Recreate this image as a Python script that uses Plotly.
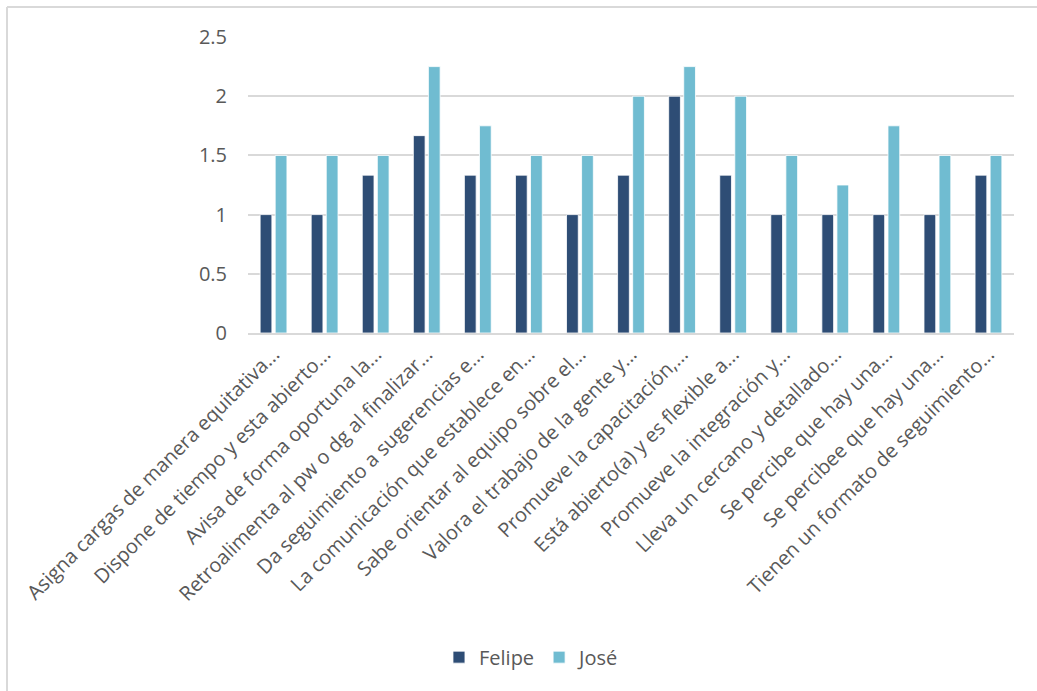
import plotly.graph_objects as go

categories = [
    "Asigna cargas de manera equitativa...",
    "Dispone de tiempo y esta abierto...",
    "Avisa de forma oportuna la...",
    "Retroalimenta al pw o dg al finalizar...",
    "Da seguimiento a sugerencias e...",
    "La comunicación que establece en...",
    "Sabe orientar al equipo sobre el...",
    "Valora el trabajo de la gente y...",
    "Promueve la capacitación,...",
    "Está abierto(a) y es flexible a...",
    "Promueve la integración y...",
    "Lleva un cercano y detallado...",
    "Se percibe que hay una...",
    "Se percibee que hay una...",
    "Tienen un formato de seguimiento...",
]
felipe = [1, 1, 1.333, 1.667, 1.333, 1.333, 1, 1.333, 2, 1.333, 1, 1, 1, 1, 1.333]
jose = [1.5, 1.5, 1.5, 2.25, 1.75, 1.5, 1.5, 2, 2.25, 2, 1.5, 1.25, 1.75, 1.5, 1.5]
y_ticks = [0, 0.5, 1, 1.5, 2, 2.5]

FONT = "Open Sans"
TEXT = "#595959"
GRID = "#d9d9d9"

fig = go.Figure()
fig.add_trace(go.Bar(name="Felipe", x=categories, y=felipe,
                     marker=dict(color="#2e4d75", line=dict(color="white", width=0.8))))
fig.add_trace(go.Bar(name="José", x=categories, y=jose,
                     marker=dict(color="#70bcd1", line=dict(color="white", width=0.8))))

W, H = 1037, 691
L, R, T, B = 248, 23, 37, 358
pw, ph = W - L - R, H - T - B


def px_to_paper(x, y):
    return (x - L) / pw, (H - B - y) / ph


# light frame around the chart area (top and left edges)
x0, y0 = px_to_paper(7, 7)
x1, y1 = px_to_paper(W + 2, H + 2)
shapes = [
    dict(type="line", xref="paper", yref="paper", x0=x0, y0=y0, x1=x1, y1=y0,
         line=dict(color=GRID, width=2)),
    dict(type="line", xref="paper", yref="paper", x0=x0, y0=y0, x1=x0, y1=y1,
         line=dict(color=GRID, width=2)),
]

fig.update_layout(
    width=W, height=H,
    margin=dict(l=L, r=R, t=T, b=B, pad=0),
    paper_bgcolor="white", plot_bgcolor="white",
    barmode="group", bargap=0.41, bargroupgap=0.22,
    font=dict(family=FONT, color=TEXT, size=20),
    showlegend=True,
    legend=dict(orientation="h", xref="container", yref="container",
                x=0.513, y=0.049, xanchor="center", yanchor="middle",
                font=dict(size=20, color=TEXT), itemwidth=30),
    shapes=shapes,
)
fig.update_xaxes(tickangle=-45, tickfont=dict(size=20, color=TEXT),
                 showline=True, linecolor=GRID, linewidth=1.5, ticks="",
                 showgrid=False)
fig.update_yaxes(range=[0, 2.5], tickvals=y_ticks, ticktext=[f"{v:g}" for v in y_ticks],
                 tickfont=dict(size=20, color=TEXT), showgrid=True, gridcolor=GRID,
                 gridwidth=1.5, zeroline=False, showline=False, ticks="",
                 ticklabelstandoff=20)

fig.write_html("out.html")
